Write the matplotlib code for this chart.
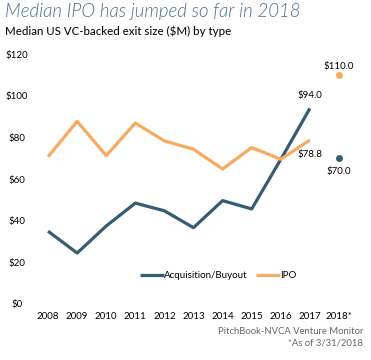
import matplotlib
matplotlib.use("Agg")
import matplotlib.pyplot as plt

years = ["2008", "2009", "2010", "2011", "2012", "2013", "2014", "2015", "2016", "2017", "2018*"]
acq = [35.0, 24.5, 37.5, 48.5, 44.8, 36.7, 49.7, 45.7, 69.5, 94.0]
ipo = [70.8, 87.8, 71.3, 87.0, 78.4, 74.4, 64.9, 75.2, 69.6, 78.8]
acq_2018 = 70.0
ipo_2018 = 110.0
yticks = [0, 20, 40, 60, 80, 100, 120]

C_ACQ = "#355d72"
C_IPO = "#f8aa5f"
plt.rcParams["font.family"] = ["Lato", "DejaVu Sans"]

fig = plt.figure(figsize=(3.71, 3.6), dpi=100)
ax = fig.add_axes([33.5 / 371, 56 / 360, 320 / 371, 249.6 / 360])

x = list(range(len(acq)))
ax.plot(x, acq, color=C_ACQ, lw=2.3, solid_capstyle="butt", label="Acquisition/Buyout")
ax.plot(x, ipo, color=C_IPO, lw=2.3, solid_capstyle="butt", label="IPO")
ax.plot([10], [acq_2018], "o", color=C_ACQ, ms=4)
ax.plot([10], [ipo_2018], "o", color=C_IPO, ms=4)

ax.annotate(f"${acq[-1]:.1f}", (9, acq[-1]), xytext=(0, 6), textcoords="offset points",
            ha="center", va="bottom", fontsize=7)
ax.annotate(f"${ipo[-1]:.1f}", (9, ipo[-1]), xytext=(0, -7), textcoords="offset points",
            ha="center", va="top", fontsize=7)
ax.annotate(f"${ipo_2018:.1f}", (10, ipo_2018), xytext=(0, 3), textcoords="offset points",
            ha="center", va="bottom", fontsize=7)
ax.annotate(f"${acq_2018:.1f}", (10, acq_2018), xytext=(0, -6), textcoords="offset points",
            ha="center", va="top", fontsize=7)

ax.set_xlim(-0.5, 10.5)
ax.set_ylim(0, 120)
ax.set_xticks(range(len(years)))
ax.set_xticklabels(years)
ax.set_yticks(yticks)
ax.set_yticklabels([f"${v}" for v in yticks])
for s in ax.spines.values():
    s.set_visible(False)
ax.tick_params(axis="x", length=0, labelsize=7, pad=6)
ax.tick_params(axis="y", length=0, labelsize=7, pad=12)
for t in ax.get_yticklabels():
    t.set_horizontalalignment("center")

ax.legend(loc="lower center", bbox_to_anchor=(0.578, 0.06), ncol=2, frameon=False,
          fontsize=7, handlelength=2.4, handletextpad=0.05, columnspacing=0.9)

fig.text(5 / 371, 1 - 17 / 360, "Median IPO has jumped so far in 2018", fontsize=13.4,
         style="italic", fontweight=300, color="#4d6c8c", va="baseline", ha="left")
fig.text(5 / 371, 1 - 35 / 360, "Median US VC-backed exit size ($M) by type", fontsize=8.3,
         fontweight="medium", color="#111111", va="baseline", ha="left")
fig.text(363 / 371, 1 - 332 / 360, "PitchBook-NVCA Venture Monitor", fontsize=6.8,
         color="#666666", ha="right", va="center")
fig.text(363 / 371, 1 - 343 / 360, "*As of 3/31/2018", fontsize=6.8,
         color="#666666", ha="right", va="center")

fig.savefig("out.png", dpi=100)
